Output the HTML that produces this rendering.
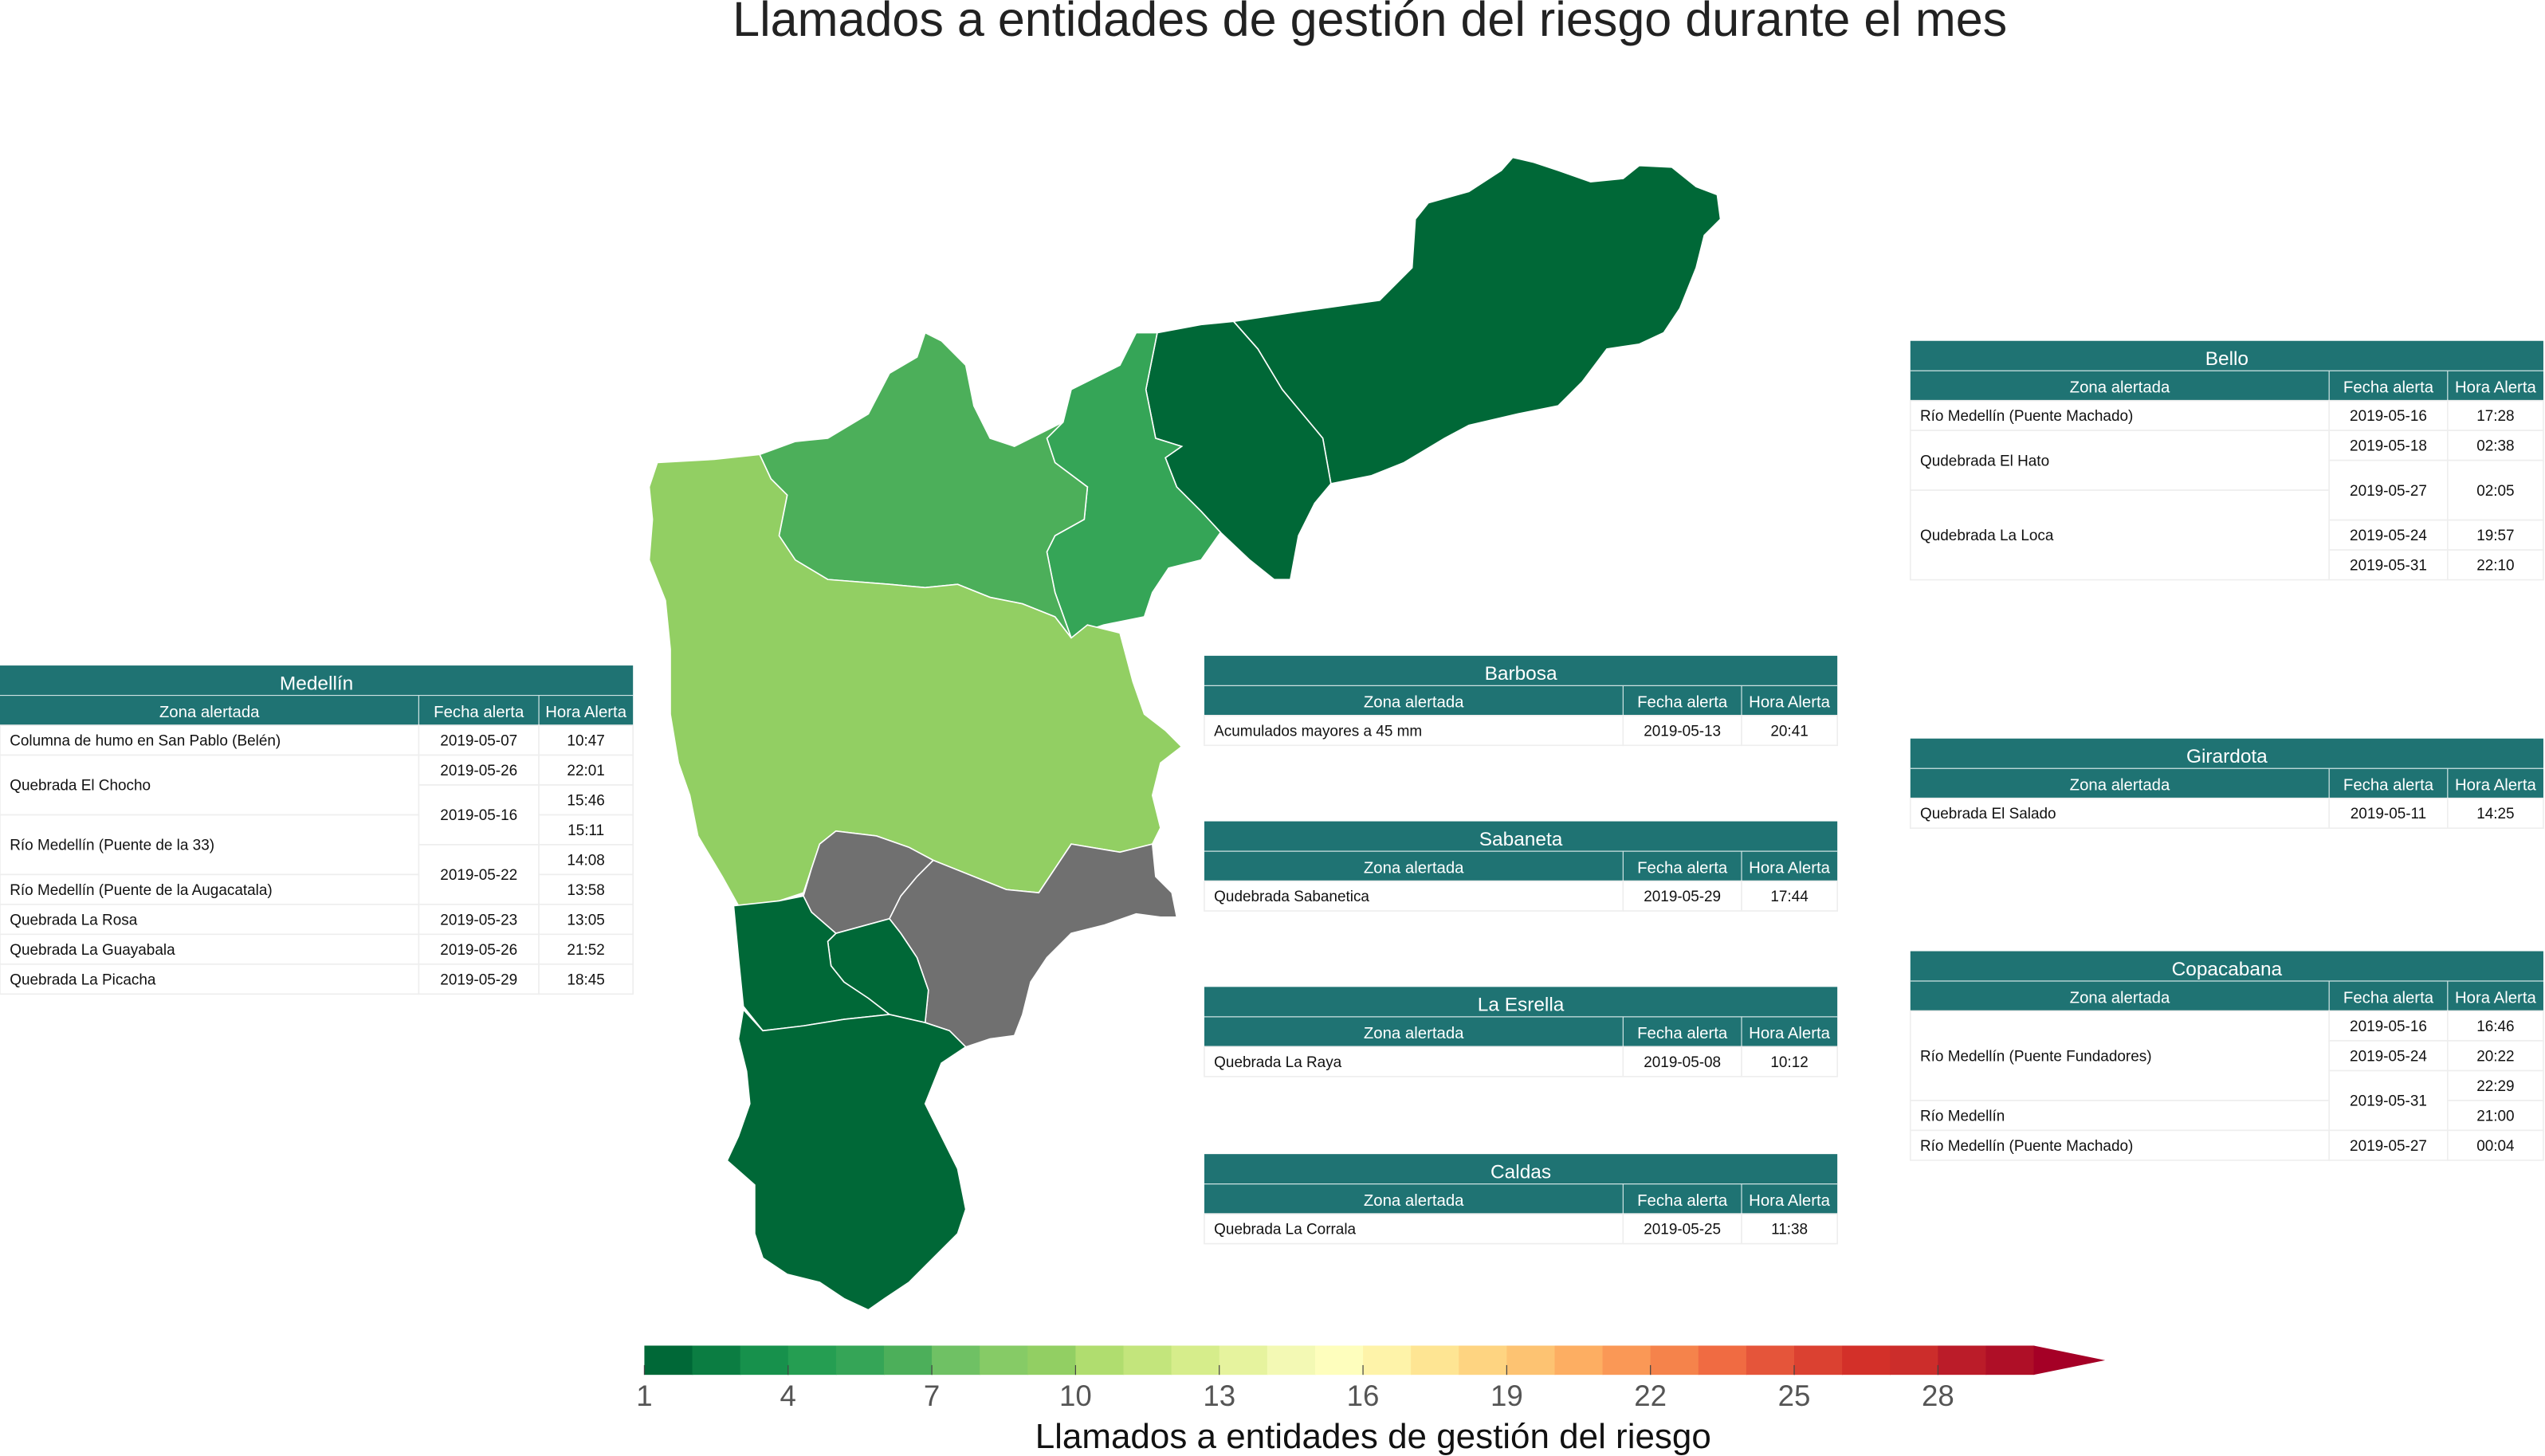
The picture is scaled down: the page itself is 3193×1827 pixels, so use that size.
<!DOCTYPE html>
<html><head><meta charset="utf-8">
<style>
html,body{margin:0;padding:0;background:#fff;}
svg{display:block;}
text{font-family:"Liberation Sans",sans-serif;}
</style></head>
<body>
<svg id="root" xmlns="http://www.w3.org/2000/svg" width="3193" height="1827" viewBox="0 0 1568 897" preserveAspectRatio="none">
<text x="844" y="22" font-size="30" text-anchor="middle" fill="#222">Llamados a entidades de gestión del riesgo durante el mes</text>
<g id="map"></g>
<g id="tables"></g>
<g id="cbar"></g>
<text x="846" y="892" font-size="21.6" text-anchor="middle" fill="#111">Llamados a entidades de gestión del riesgo</text>
</svg>
<script>
const NS="http://www.w3.org/2000/svg";
// data
const regionNames=["Barbosa","Girardota","Copacabana","Bello","Medellin","Itagui","Envigado","La Estrella","Sabaneta","Caldas"];
const regionCounts=[1,1,5,6,9,null,null,1,1,1];
const tickValues=[1,4,7,10,13,16,19,22,25,28];
const colorMin=1, colorMax=30;
const palette=['#006837','#0b7d42','#17914c','#259e52','#35a557','#4caf5a','#6fc164','#86cb66','#92cf63','#b0dd6f','#c3e57c','#d6ed8b','#e6f39e','#f3f9b4','#fefebd','#fef3a9','#fee593','#fed481','#fdc372','#fdae62','#fa9856','#f5834b','#f06b42','#e5553a','#db4131','#d33029','#cc2d2b','#bb1c29','#af0f27'];
// geometry (outline shapes, not data)
const shapes={
"Barbosa":"760,198 800,192 850,185 870,165 872,135 880,125 905,118 925,105 932,97 945,100 960,105 980,112 1000,110 1010,102 1030,103 1045,115 1058,120 1060,135 1050,145 1045,165 1035,190 1025,205 1010,212 990,215 975,235 960,250 935,255 905,262 890,270 865,285 845,293 820,298 815,270 790,240 775,215",
"Girardota":"713,205 740,200 760,198 775,215 790,240 815,270 820,298 810,310 800,330 795,357 785,357 770,345 752,328 740,315 725,300 718,282 728,275 712,270 706,240",
"Copacabana":"700,205 713,205 706,240 712,270 728,275 718,282 725,300 740,315 752,328 740,345 720,350 710,365 705,380 680,385 665,390 660,393 650,365 645,340 650,330 668,320 670,300 650,285 645,270 655,260 660,240 690,225",
"Bello":"468,280 490,272 510,270 535,255 548,230 565,220 570,205 580,210 595,225 600,250 610,270 625,275 645,265 655,260 645,270 650,285 670,300 668,320 650,330 645,340 650,365 660,393 650,380 630,372 610,368 590,360 570,362 548,360 510,357 490,345 480,330 485,305 475,295",
"Medellin":"405,285 440,283 468,280 475,295 485,305 480,330 490,345 510,357 548,360 570,362 590,360 610,368 630,372 650,380 660,393 670,385 690,390 698,420 705,440 718,450 728,460 715,470 710,490 715,510 710,520 690,525 660,520 650,535 640,550 620,548 600,540 575,530 560,522 540,515 515,512 505,520 500,535 495,550 480,555 455,558 445,540 430,515 425,490 418,470 413,440 413,400 410,370 400,345 402,320 400,300",
"Itagui":"495,552 500,535 505,520 515,512 540,515 560,522 575,530 565,540 555,552 548,566 515,575 500,562",
"Envigado":"575,530 600,540 620,548 640,550 650,535 660,520 690,525 710,520 712,540 722,550 725,565 715,565 700,563 680,570 660,575 645,590 635,605 630,625 625,638 610,640 595,645 585,635 570,630 572,610 565,590 555,575 548,566 555,552 565,540",
"La Estrella":"515,575 548,566 555,575 565,590 572,610 570,630 548,625 535,615 520,605 512,595 510,580",
"Sabaneta":"452,558 480,555 495,552 500,562 515,575 510,580 512,595 520,605 535,615 548,625 520,628 495,632 470,635 458,620 455,590",
"Caldas":"458,622 470,635 495,632 520,628 548,625 570,630 585,635 595,645 580,655 570,680 580,700 590,720 595,745 590,760 575,775 560,790 545,800 535,807 520,800 505,790 485,785 470,775 465,760 465,730 448,715 455,700 462,680 460,660 455,640"
};
function colorFor(v){ if(v==null) return '#707070'; const i=Math.max(0,Math.min(palette.length-1,Math.floor(v-colorMin))); return palette[i]; }
const map=document.getElementById('map');
regionNames.forEach((n,i)=>{
  const p=document.createElementNS(NS,'polygon');
  p.setAttribute('points',shapes[n]);
  p.setAttribute('fill',colorFor(regionCounts[i]));
  p.setAttribute('stroke','#fff');p.setAttribute('stroke-width','0.8');
  
  
  map.appendChild(p);
});
// colorbar
const cbX0=397, cbX1=1253, cbY=829, cbH=18;
function xScale(v){return cbX0+(v-colorMin)*((cbX1-cbX0)/29);}
const cb=document.getElementById('cbar');
palette.forEach((c,i)=>{
  const r=document.createElementNS(NS,'rect');
  r.setAttribute('x',xScale(colorMin+i));r.setAttribute('y',cbY);
  r.setAttribute('width',xScale(colorMin+i+1)-xScale(colorMin+i)+0.4);r.setAttribute('height',cbH);
  r.setAttribute('fill',c);
  
  
  cb.appendChild(r);
});
const arr=document.createElementNS(NS,'polygon');
arr.setAttribute('points',`${cbX1},${cbY} 1297,${cbY+cbH/2} ${cbX1},${cbY+cbH}`);
arr.setAttribute('fill','#a50026');


cb.appendChild(arr);
tickValues.forEach(v=>{
  const x=xScale(v);
  const l=document.createElementNS(NS,'line');
  l.setAttribute('x1',x);l.setAttribute('x2',x);l.setAttribute('y1',cbY+12);l.setAttribute('y2',cbY+cbH);
  l.setAttribute('stroke','#444');l.setAttribute('stroke-width','0.6');
  
  
  cb.appendChild(l);
  const t=document.createElementNS(NS,'text');
  t.setAttribute('x',x);t.setAttribute('y',866);t.setAttribute('font-size','18');
  t.setAttribute('text-anchor','middle');t.setAttribute('fill','#555');
  t.textContent=v;
  
  
  cb.appendChild(t);
});
// tables
const RH=18.4;
const tablesDef=[
 ["Medellín",0,410,390,[258,74,58],9,[
  [0,0,1,"Columna de humo en San Pablo (Belén)"],[1,0,1,"2019-05-07"],[2,0,1,"10:47"],
  [0,1,2,"Quebrada El Chocho"],[1,1,1,"2019-05-26"],[2,1,1,"22:01"],
  [1,2,2,"2019-05-16"],[2,2,1,"15:46"],
  [0,3,2,"Río Medellín (Puente de la 33)"],[2,3,1,"15:11"],
  [1,4,2,"2019-05-22"],[2,4,1,"14:08"],
  [0,5,1,"Río Medellín (Puente de la Augacatala)"],[2,5,1,"13:58"],
  [0,6,1,"Quebrada La Rosa"],[1,6,1,"2019-05-23"],[2,6,1,"13:05"],
  [0,7,1,"Quebrada La Guayabala"],[1,7,1,"2019-05-26"],[2,7,1,"21:52"],
  [0,8,1,"Quebrada La Picacha"],[1,8,1,"2019-05-29"],[2,8,1,"18:45"]]],
 ["Bello",1177,210,390,[258,73,59],6,[
  [0,0,1,"Río Medellín (Puente Machado)"],[1,0,1,"2019-05-16"],[2,0,1,"17:28"],
  [0,1,2,"Qudebrada El Hato"],[1,1,1,"2019-05-18"],[2,1,1,"02:38"],
  [1,2,2,"2019-05-27"],[2,2,2,"02:05"],
  [0,3,3,"Qudebrada La Loca"],[1,4,1,"2019-05-24"],[2,4,1,"19:57"],
  [1,5,1,"2019-05-31"],[2,5,1,"22:10"]]],
 ["Barbosa",742,404,390,[258,73,59],1,[[0,0,1,"Acumulados mayores a 45 mm"],[1,0,1,"2019-05-13"],[2,0,1,"20:41"]]],
 ["Sabaneta",742,506,390,[258,73,59],1,[[0,0,1,"Qudebrada Sabanetica"],[1,0,1,"2019-05-29"],[2,0,1,"17:44"]]],
 ["La Esrella",742,608,390,[258,73,59],1,[[0,0,1,"Quebrada La Raya"],[1,0,1,"2019-05-08"],[2,0,1,"10:12"]]],
 ["Caldas",742,711,390,[258,73,59],1,[[0,0,1,"Quebrada La Corrala"],[1,0,1,"2019-05-25"],[2,0,1,"11:38"]]],
 ["Girardota",1177,455,390,[258,73,59],1,[[0,0,1,"Quebrada El Salado"],[1,0,1,"2019-05-11"],[2,0,1,"14:25"]]],
 ["Copacabana",1177,586,390,[258,73,59],5,[
  [0,0,3,"Río Medellín (Puente Fundadores)"],[1,0,1,"2019-05-16"],[2,0,1,"16:46"],
  [1,1,1,"2019-05-24"],[2,1,1,"20:22"],
  [1,2,2,"2019-05-31"],[2,2,1,"22:29"],
  [0,3,1,"Río Medellín"],[2,3,1,"21:00"],
  [0,4,1,"Río Medellín (Puente Machado)"],[1,4,1,"2019-05-27"],[2,4,1,"00:04"]]]
];
const TEAL='#1f7373';
const tg=document.getElementById('tables');
function mk(tag,attrs,parent){const e=document.createElementNS(NS,tag);for(const k in attrs)e.setAttribute(k,attrs[k]);parent.appendChild(e);return e;}
tablesDef.forEach(td=>{
  const [title,x,y,w,cols,nRows,cells]=td;
  const g=mk('g',{},tg);
  
  
  mk('rect',{x:x,y:y,width:w,height:RH*2,fill:TEAL},g);
  mk('line',{x1:x,x2:x+w,y1:y+RH,y2:y+RH,stroke:'#cfe3e3','stroke-width':0.6},g);
  const tt=mk('text',{x:x+w/2,y:y+RH-3.5,'font-size':12,'text-anchor':'middle',fill:'#fff'},g);
  tt.textContent=title;
  
  
  const cx=[x,x+cols[0],x+cols[0]+cols[1]];
  const heads=["Zona alertada","Fecha alerta","Hora Alerta"];
  heads.forEach((h,i)=>{
    if(i>0) mk('line',{x1:cx[i],x2:cx[i],y1:y+RH,y2:y+RH*2,stroke:'#cfe3e3','stroke-width':0.6},g);
    const ht=mk('text',{x:cx[i]+cols[i]/2,y:y+2*RH-5,'font-size':10,'text-anchor':'middle',fill:'#fff'},g);
    ht.textContent=h;
    
    
  });
  const y0=y+2*RH;
  cells.forEach(c=>{
    const [ci,r,span,txt]=c;
    mk('rect',{x:cx[ci],y:y0+r*RH,width:cols[ci],height:span*RH,fill:'#fff',stroke:'#eeeeee','stroke-width':0.8},g);
    const t=mk('text',{x:ci==0?cx[ci]+6:cx[ci]+cols[ci]/2,y:y0+(r+span/2)*RH+3.3,'font-size':9.3,'text-anchor':ci==0?'start':'middle',fill:'#111'},g);
    t.textContent=txt;
    
    
  });
});
</script>
</body></html>
